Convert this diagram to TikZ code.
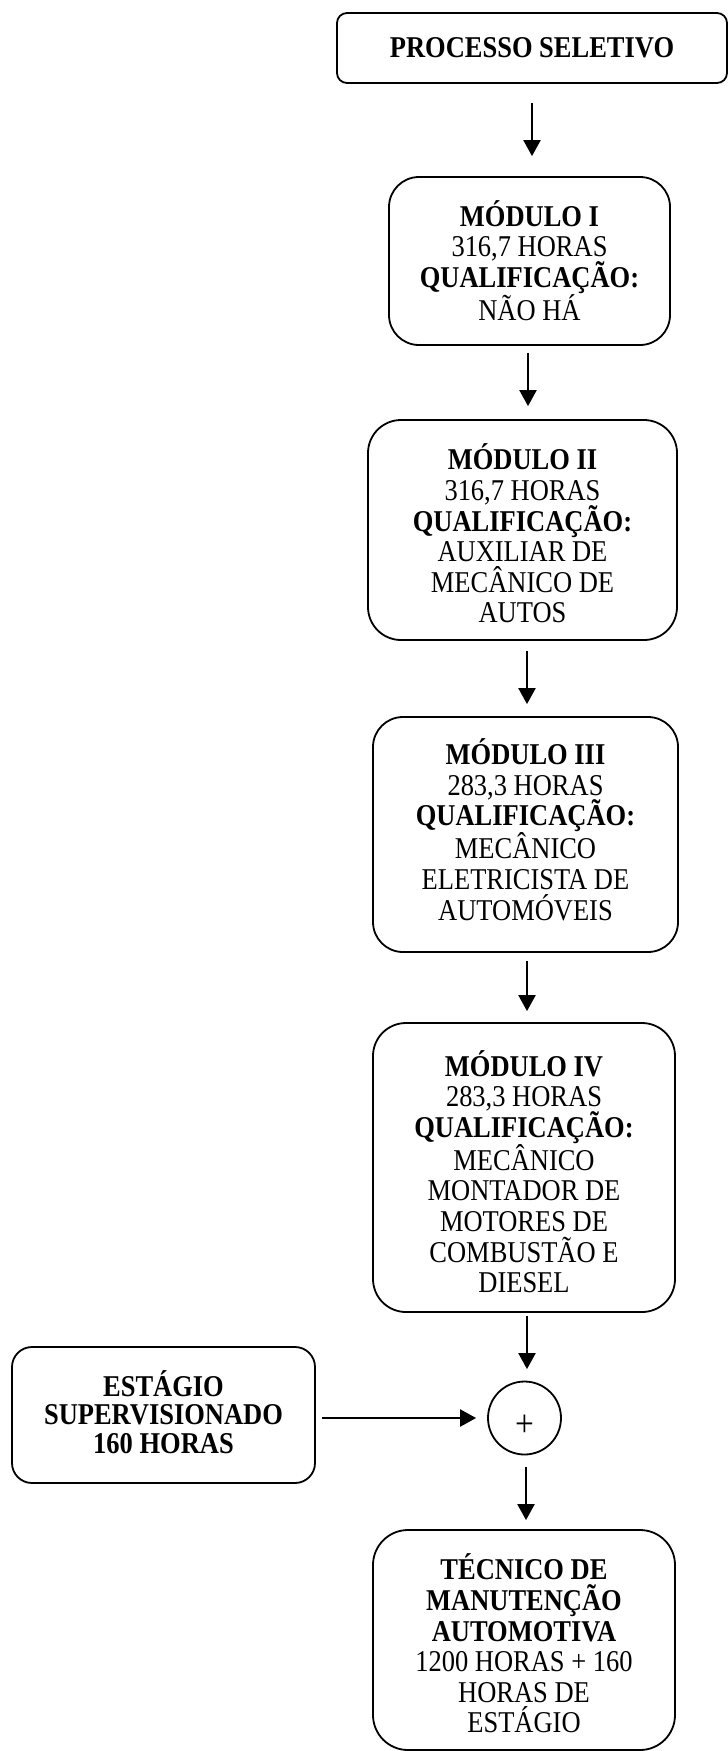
\documentclass[tikz,border=0pt]{standalone}
\usepackage{fontspec}
\setmainfont{Liberation Serif}[FakeStretch=0.877]
\usetikzlibrary{arrows.meta}
\begin{document}
\begin{tikzpicture}[x=1pt,y=-1pt,
  box/.style={draw,line width=1.8pt,inner sep=0pt},
  txt/.style={align=center,inner sep=0pt,font=\fontsize{30.2}{30.6}\selectfont,
    execute at begin node=\strut,execute at end node=\strut},
  txtb/.style={align=center,inner sep=0pt,font=\fontsize{30.2}{28.3}\selectfont\bfseries,
    execute at begin node=\strut,execute at end node=\strut},
  arr/.style={line width=2.2pt,-{Triangle[width=17pt,length=16pt]}}]
\useasboundingbox (0,0) rectangle (728,1751);
% boxes
\node[box,rounded corners=10pt,minimum width=390pt,minimum height=70pt] (ps) at (532,48) {};
\node[box,rounded corners=30pt,minimum width=281pt,minimum height=168pt] (m1) at (529.5,261) {};
\node[box,rounded corners=33pt,minimum width=309pt,minimum height=220pt] (m2) at (522.5,530) {};
\node[box,rounded corners=30pt,minimum width=305pt,minimum height=235pt] (m3) at (525.5,834.5) {};
\node[box,rounded corners=33pt,minimum width=302pt,minimum height=289pt] (m4) at (524,1167.5) {};
\node[box,rounded corners=20pt,minimum width=303pt,minimum height=136pt] (est) at (163.5,1415) {};
\node[box,circle,minimum size=73pt] (circ) at (524.5,1418) {};
\node[box,rounded corners=35pt,minimum width=302pt,minimum height=220pt] (fin) at (524,1640) {};
% texts
\node[txt] (t0) at (532,51.4) {\textbf{PROCESSO SELETIVO}};
\node[txt] (t1) at (529.5,265) {\textbf{MÓDULO I}\\316,7 HORAS\\\textbf{QUALIFICAÇÃO:}\\NÃO HÁ};
\node[txt] (t2) at (522.5,538) {\textbf{MÓDULO II}\\316,7 HORAS\\\textbf{QUALIFICAÇÃO:}\\AUXILIAR DE\\MECÂNICO DE\\AUTOS};
\node[txt] (t3) at (525.5,834) {\textbf{MÓDULO III}\\283,3 HORAS\\\textbf{QUALIFICAÇÃO:}\\MECÂNICO\\ELETRICISTA DE\\AUTOMÓVEIS};
\node[txt] (t4) at (524,1176) {\textbf{MÓDULO IV}\\283,3 HORAS\\\textbf{QUALIFICAÇÃO:}\\MECÂNICO\\MONTADOR DE\\MOTORES DE\\COMBUSTÃO E\\DIESEL};
\node[txtb] (t5) at (163.5,1416) {ESTÁGIO\\SUPERVISIONADO\\160 HORAS};
\node[txt] (t6) at (524,1648) {\textbf{TÉCNICO DE}\\\textbf{MANUTENÇÃO}\\\textbf{AUTOMOTIVA}\\1200 HORAS + 160\\HORAS DE\\ESTÁGIO};
\node[inner sep=0pt,font=\fontsize{38}{38}\selectfont] (plus) at (525,1426) {+};
% connectors
\draw[arr,shorten <=19pt,shorten >=20pt] (ps.south) -- (ps.south |- m1.north);
\draw[arr,shorten <=7pt,shorten >=13pt] ([xshift=-1.5pt]m1.south) -- ([xshift=-1.5pt]m1.south |- m2.north);
\draw[arr,shorten <=10pt,shorten >=12pt] ([xshift=4.5pt]m2.south) -- ([xshift=4.5pt]m2.south |- m3.north);
\draw[arr,shorten <=8pt,shorten >=11pt] ([xshift=1.5pt]m3.south) -- ([xshift=1.5pt]m3.south |- m4.north);
\draw[arr,shorten <=3pt,shorten >=11.5pt] ([xshift=3pt]m4.south) -- ([xshift=3pt]m4.south |- circ.north);
\draw[arr,shorten <=11.5pt,shorten >=9pt] ([xshift=1.5pt]circ.south) -- ([xshift=1.5pt]circ.south |- fin.north);
\draw[arr,shorten <=6pt,shorten >=11pt] (est.east |- circ.west) -- (circ.west);
\end{tikzpicture}
\end{document}
